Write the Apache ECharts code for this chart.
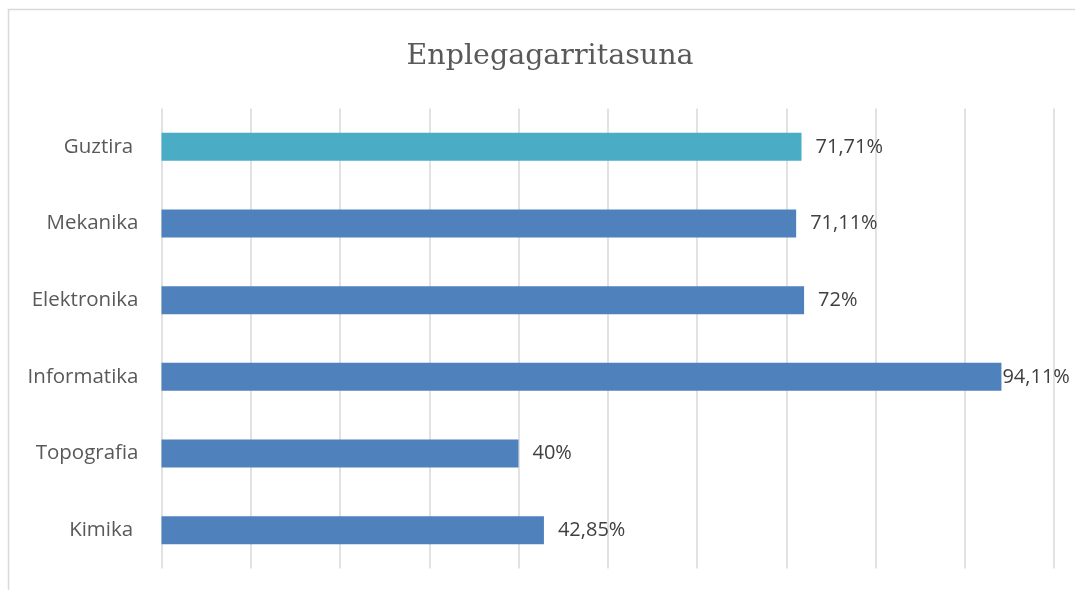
<!DOCTYPE html>
<html>
<head>
    <meta charset="utf-8">
    <title>Enplegagarritasuna</title>
    <script src="https://cdn.jsdelivr.net/npm/echarts@6/dist/echarts.min.js"></script>
    <style>
        html, body { margin: 0; padding: 0; background: #fff; overflow: hidden; }
    </style>
</head>
<body>
<div id="main" style="width: 1075px;height:590px;"></div>
<script type="text/javascript">

    // datuak (goitik behera)
    var categories = ['Guztira ', 'Mekanika', 'Elektronika', 'Informatika', 'Topografia', 'Kimika '];
    var values = [71.71, 71.11, 72, 94.11, 40, 42.85];
    var barColors = ['#4BACC6', '#4F81BD', '#4F81BD', '#4F81BD', '#4F81BD', '#4F81BD'];

    function pct(v){
        return String(v).replace('.', ',') + '%';
    }

    // ECharts: kategoria ardatza behetik gora marrazten da
    var cats = categories.slice().reverse();
    var colorsRev = barColors.slice().reverse();
    var data = values.slice().reverse().map(function (v, i) {
        var item = { value: v, itemStyle: { color: colorsRev[i] } };
        // barra luzeenaren etiketa barraren ondoan, koadrotik irten ez dadin
        if (v > 90) {
            item.label = { distance: 1 };
        }
        return item;
    });

    var myChart = echarts.init(document.getElementById('main'));

    var option = {
        animation: false,
        title: {
            text: 'Enplegagarritasuna',
            left: 545,
            textAlign: 'center',
            top: 37,
            textStyle: {
                fontFamily: 'DejaVu Serif',
                fontWeight: 'normal',
                fontSize: 28.5,
                color: '#595959'
            }
        },
        graphic: [{
            type: 'rect',
            shape: { x: 8.5, y: 9.5, width: 1100, height: 620 },
            style: { fill: null, stroke: '#d9d9d9', lineWidth: 1.5 },
            silent: true,
            z: -1
        }],
        grid: {
            left: 161.5,
            right: 21,
            top: 108.5,
            bottom: 21.5
        },
        xAxis: {
            type: 'value',
            min: 0,
            max: 100,
            interval: 10,
            axisLabel: { show: false },
            axisLine: { show: false },
            axisTick: { show: false },
            splitLine: { lineStyle: { color: '#d9d9d9', width: 1.5 } }
        },
        yAxis: {
            type: 'category',
            data: cats,
            axisLine: { show: false },
            axisTick: { show: false },
            axisLabel: {
                margin: 23,
                fontFamily: 'Open Sans',
                fontSize: 20.5,
                color: '#595959'
            }
        },
        series: [{
            type: 'bar',
            data: data,
            barWidth: '36.5%',
            label: {
                show: true,
                position: 'right',
                distance: 14,
                fontFamily: 'Open Sans',
                fontSize: 20,
                color: '#404040',
                formatter: function (p) { return pct(p.value); }
            }
        }]
    };

    myChart.setOption(option);

</script>
</body>
</html>
